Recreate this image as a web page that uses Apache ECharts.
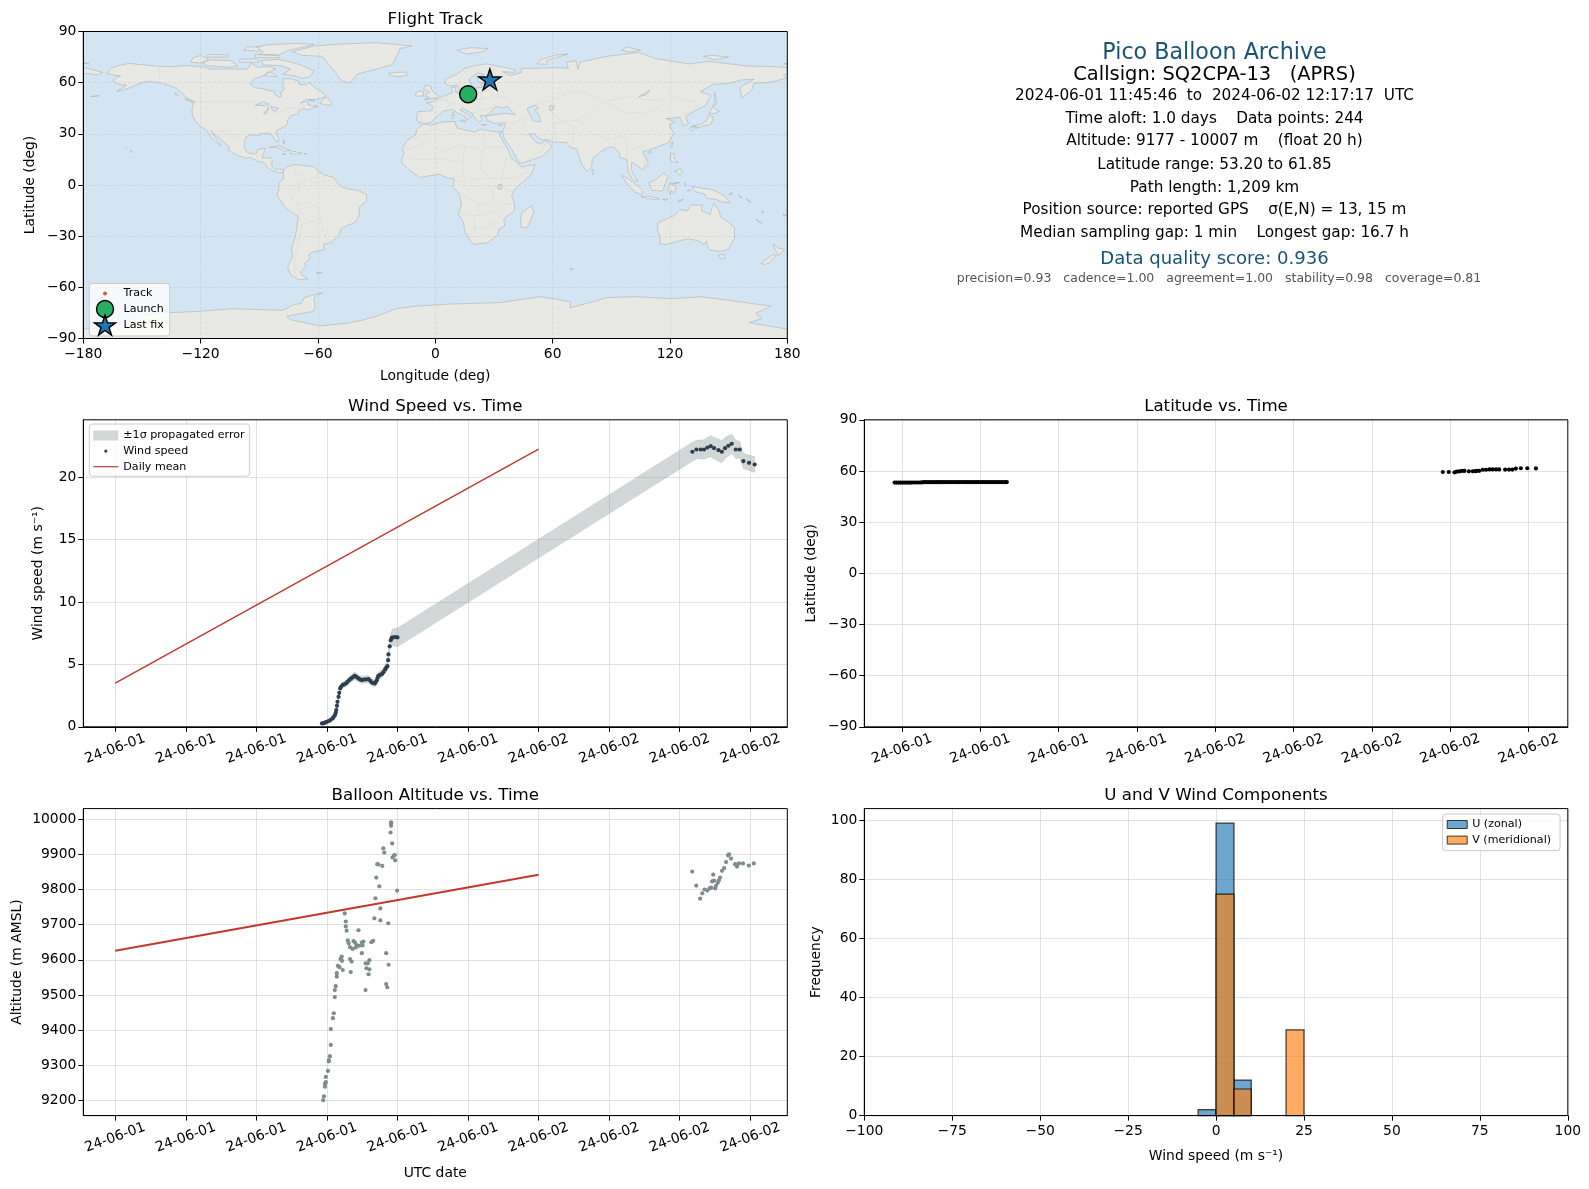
<!DOCTYPE html>
<html><head><meta charset="utf-8">
<style>html,body{margin:0;padding:0;background:#fff}#c{width:1589px;height:1189px}</style>
<script src="https://cdn.jsdelivr.net/npm/echarts@6/dist/echarts.min.js"></script>
</head><body><div id="c"></div>
<script>
// ---------- text ----------
const infoLines = [
 ["Pico Balloon Archive",22.2,"#1a5276",51.7,1214.5],
 ["Callsign: SQ2CPA-13   (APRS)",19.44,"#000",74,1214.5],
 ["2024-06-01 11:45:46  to  2024-06-02 12:17:17  UTC",15.28,"#000",95,1214.5],
 ["Time aloft: 1.0 days    Data points: 244",15.28,"#000",117.6,1214.5],
 ["Altitude: 9177 - 10007 m    (float 20 h)",15.28,"#000",139.9,1214.5],
 ["Latitude range: 53.20 to 61.85",15.28,"#000",163.7,1214.5],
 ["Path length: 1,209 km",15.28,"#000",186.5,1214.5],
 ["Position source: reported GPS    σ(E,N) = 13, 15 m",15.28,"#000",208.8,1214.5],
 ["Median sampling gap: 1 min    Longest gap: 16.7 h",15.28,"#000",232,1214.5],
 ["Data quality score: 0.936",18.06,"#1a5276",257.4,1214.5],
 ["precision=0.93   cadence=1.00   agreement=1.00   stability=0.98   coverage=0.81",12.5,"#555",277.7,1219]
];
// ---------- time ticks (hours since 2024-06-01 00:00 UTC) ----------
const leftTickHours = [0,4,8,12,16,20,24,28,32,36];
const leftTickLabels = ["24-06-01","24-06-01","24-06-01","24-06-01","24-06-01","24-06-01","24-06-02","24-06-02","24-06-02","24-06-02"];
const latTickHours = [12,15,18,21,24,27,30,33,36];
const latTickLabels = ["24-06-01","24-06-01","24-06-01","24-06-01","24-06-02","24-06-02","24-06-02","24-06-02","24-06-02"];
// ---------- wind ----------
const windHours = [11.72,11.8,11.88,11.95,12.03,12.13,12.22,12.32,12.38,12.45,12.5,12.53,12.57,12.6,12.66,12.7,12.75,12.8,12.89,12.98,13.08,13.17,13.26,13.36,13.45,13.52,13.58,13.66,13.74,13.83,13.92,14.01,14.11,14.23,14.36,14.46,14.55,14.64,14.72,14.78,14.83,14.88,14.92,15.02,15.11,15.2,15.3,15.37,15.43,15.47,15.49,15.56,15.62,15.67,15.72,15.86,16.0,
 32.72,32.95,33.19,33.38,33.57,33.76,33.95,34.2,34.39,34.57,34.76,34.95,35.18,35.4,35.61,35.93,36.25];
const windValues = [0.27,0.28,0.32,0.38,0.42,0.48,0.56,0.67,0.78,0.93,1.12,1.34,1.68,2.0,2.4,2.72,3.07,3.2,3.34,3.4,3.47,3.6,3.74,3.86,3.95,4.03,4.09,4.01,3.93,3.84,3.77,3.76,3.79,3.8,3.82,3.68,3.55,3.5,3.47,3.6,3.74,3.95,4.09,4.17,4.22,4.38,4.6,4.75,4.86,5.34,5.8,6.45,6.94,7.1,7.16,7.18,7.16,
 22.04,22.22,22.22,22.22,22.38,22.49,22.33,22.17,22.04,22.33,22.52,22.68,22.22,22.22,21.29,21.15,21.02];
const windSigma = [0.08,0.08,0.08,0.08,0.09,0.09,0.1,0.1,0.1,0.12,0.14,0.15,0.16,0.18,0.2,0.2,0.22,0.24,0.25,0.26,0.26,0.27,0.28,0.3,0.3,0.31,0.32,0.31,0.3,0.3,0.29,0.29,0.29,0.3,0.3,0.29,0.28,0.28,0.28,0.29,0.3,0.3,0.31,0.31,0.32,0.33,0.35,0.36,0.37,0.4,0.44,0.5,0.56,0.62,0.68,0.72,0.75,
 0.76,0.74,0.76,0.78,0.82,0.86,0.88,0.9,0.9,0.86,0.82,0.78,0.72,0.68,0.62,0.62,0.64];
const meanHours = [0,24];
const windMean = [3.5,22.25];
// ---------- altitude ----------
const altHours = [15.64,15.64,15.64,15.61,15.7,15.2,15.25,15.85,15.8,15.72,15.87,14.86,14.92,15.14,14.8,14.97,15.98,14.75,15.03,13.01,14.69,15.03,15.48,13.07,13.07,13.12,13.79,13.18,13.23,13.31,13.46,13.51,13.59,13.68,13.64,13.83,14.02,14.07,13.98,14.52,14.62,
 15.36,13.98,12.84,12.77,12.86,13.31,13.4,14.41,14.2,14.32,15.5,12.62,12.71,14.24,14.41,12.9,13.35,12.56,12.56,14.36,15.36,15.42,12.5,12.45,14.19,12.45,12.39,12.34,12.22,12.22,12.17,12.11,12.11,12.06,11.94,11.94,11.89,11.89,11.83,11.79,
 32.71,32.94,33.28,33.16,33.41,33.56,33.69,33.78,34.01,34.05,33.9,33.84,33.95,34.16,34.22,34.29,34.4,34.52,34.63,34.74,34.8,34.91,35.14,35.25,35.36,35.59,35.92,36.2];
const altValues = [9991,9988,9981,9962,9931,9917,9905,9898,9896,9891,9883,9872,9871,9867,9834,9809,9797,9775,9746,9732,9718,9712,9704,9709,9695,9683,9684,9655,9647,9636,9631,9653,9649,9642,9635,9640,9641,9652,9649,9650,9654,
 9619,9619,9609,9602,9597,9602,9595,9599,9590,9590,9586,9583,9579,9576,9573,9571,9565,9562,9552,9559,9531,9522,9525,9514,9514,9494,9448,9434,9403,9358,9326,9315,9311,9284,9267,9252,9247,9239,9212,9201,
 9851,9811,9789,9774,9800,9797,9803,9805,9803,9810,9842,9823,9825,9819,9826,9834,9853,9861,9878,9897,9900,9888,9872,9865,9874,9874,9868,9874];
const altMean = [9626,9842];
const altTicks = [9200,9300,9400,9500,9600,9700,9800,9900,10000];
// ---------- latitude ----------
const latHours = [11.72,11.8,11.88,11.96,12.04,12.12,12.2,12.28,12.36,12.44,12.52,12.6,12.68,12.76,12.84,12.92,13.0,13.08,13.16,13.24,13.32,13.4,13.48,13.56,13.64,13.72,13.8,13.88,13.96,14.04,14.12,14.2,14.28,14.36,14.44,14.52,14.6,14.68,14.76,14.84,14.92,15.0,15.08,15.16,15.24,15.32,15.4,15.48,15.56,15.64,15.72,15.8,15.88,15.96,16.02,
 32.72,32.95,33.17,33.26,33.36,33.46,33.55,33.72,33.87,33.97,34.02,34.12,34.25,34.38,34.51,34.63,34.76,34.88,35.11,35.26,35.39,35.52,35.71,35.96,36.29];
const latValues = [53.2,53.2,53.2,53.2,53.2,53.21,53.21,53.22,53.22,53.23,53.24,53.24,53.25,53.26,53.4,53.41,53.42,53.42,53.43,53.43,53.44,53.44,53.45,53.45,53.46,53.46,53.46,53.46,53.47,53.47,53.47,53.47,53.47,53.48,53.48,53.48,53.48,53.48,53.48,53.48,53.48,53.48,53.48,53.48,53.49,53.49,53.49,53.49,53.49,53.49,53.49,53.49,53.49,53.49,53.49,
 59.4,59.4,59.2,59.6,59.8,60.0,60.0,59.8,59.8,59.9,60.0,60.1,60.7,60.7,60.9,60.9,60.9,60.9,60.8,60.8,60.8,61.4,61.6,61.6,61.5,61.95];
// ---------- track map ----------
const trackLons = [16.6,17.0,17.6,18.2,18.9,26.1,26.5,26.9,27.3,27.6,27.9];
const trackLats = [53.2,53.25,53.3,53.4,53.5,59.4,59.9,60.4,60.9,61.4,61.85];
const launchPoint = [16.8,53.2];
const lastFixPoint = [27.9,61.85];
// ---------- coastlines (lon, lat) ----------
const northAmerica = [[-168,65.5],[-166,68.3],[-162,70],[-156.5,71.3],[-150,70.5],[-141,69.6],[-135,69.3],[-128,70],[-120,69.5],[-115,68],[-108,68],[-100,68],[-96,68],[-94,71.5],[-91,69],[-85,69.5],[-81.5,68],[-86,66],[-87,64.5],[-93,62],[-94.5,59],[-92.5,57],[-88,56.5],[-85,55.3],[-82.3,55],[-82,53],[-80,51.5],[-78.8,52],[-79,54.5],[-77,56],[-78,58.5],[-78,62.3],[-74,62.3],[-70,61],[-69.5,59],[-66,58.7],[-64.5,60.3],[-61.5,57],[-58,54.5],[-56,52],[-60,50.2],[-66,50.2],[-69,48],[-65,49],[-65,47],[-61,46],[-64,44.3],[-66,44],[-67,45],[-70,43.5],[-70,41.7],[-74,40.5],[-75.5,38],[-76,35],[-78,33.9],[-81,32],[-81.3,30],[-80,26.8],[-80.4,25.2],[-81.8,26],[-82.8,28],[-84,30],[-86,30.3],[-89.5,30.2],[-90,29.1],[-94,29.5],[-97,28],[-97.5,25],[-97.8,22],[-96,19],[-94,18.2],[-91.5,18.5],[-90.5,21],[-87,21.5],[-88,18],[-88.5,16],[-84,15.8],[-83.3,14.9],[-83.7,11],[-82,9],[-79.5,9.5],[-77.3,8.7],[-77.8,7.3],[-80,7.3],[-83,8.2],[-85.5,10],[-87.5,13],[-91,14],[-94.5,16.2],[-97,15.8],[-102,17.9],[-105.5,20],[-105.5,22.5],[-108,25],[-109.5,26.8],[-112.5,29.5],[-114.7,31.7],[-112.8,28],[-110,24],[-110,23],[-112,25],[-114.5,27.5],[-115.7,30],[-117.2,32.5],[-120.5,34.5],[-122.5,37.5],[-124,40],[-124.5,43],[-124,46.5],[-123,49],[-127,51],[-130,54.5],[-133,57],[-137,58.5],[-140,59.8],[-146,60.8],[-150,60],[-152,59],[-154,58],[-158,56.3],[-163,54.8],[-158,58.5],[-162,59],[-165,61.5],[-161,64],[-165,64.5]];
const southAmerica = [[-77.3,8.7],[-75.5,10.8],[-72,12],[-68,11.5],[-62,10.7],[-60,8.3],[-57,6],[-52,4.5],[-50,1],[-48,-1],[-44,-2.5],[-40,-3],[-35.2,-5.5],[-35,-9],[-38.8,-13],[-39,-18],[-41,-22],[-45,-23.8],[-48.5,-26],[-49,-29],[-53.5,-34],[-57,-34.5],[-57,-38],[-62,-39],[-65,-41],[-64,-43],[-67,-46],[-66,-48],[-69,-51],[-68,-53],[-65,-55],[-70,-55.5],[-74,-52.5],[-75.5,-48],[-73,-42],[-73.5,-37],[-71.5,-30],[-70,-18.5],[-76,-14],[-81,-6],[-80,-2.5],[-80,1],[-77.5,4],[-77.8,7.3]];
const africa = [[-6,35.8],[-2,35],[3,36.8],[10,37.3],[11,33.5],[15,32.3],[20,31],[23,32.7],[32,31],[34.2,31.3],[32.5,29.9],[34,27],[37,21],[39,15.5],[43,12],[44,10.5],[51,12],[49,6],[45,2],[40.5,-2.5],[39,-6],[40.5,-11],[40.5,-15],[35,-20],[35.5,-24],[32.5,-26],[32,-29],[27,-33.8],[20,-34.8],[18,-33],[15,-27],[14.5,-22],[11.8,-17],[13.5,-11],[12,-5],[9,-1],[9.7,3.5],[6,4.3],[2,6.3],[-4,5.2],[-8,4.4],[-13,8.5],[-16.8,12.5],[-17.3,14.7],[-16,19],[-17,21],[-14.5,26],[-10,29.5],[-9.5,32.5]];
const eurasia = [[-9,37],[-9.5,39],[-9,43],[-2,43.5],[-1.2,46],[-4.5,48.3],[-1.5,48.7],[1.5,50.5],[4,52],[7,53.4],[8.7,54],[8.2,57],[10.7,57.7],[10,55],[11,54],[14,54],[18.5,54.8],[21,55],[21,57],[24,57.2],[23.5,59.2],[28,59.5],[30,60],[23,60],[21.5,61],[21.5,63],[25,65],[22,65.8],[17.5,62.5],[17.5,60.5],[18.8,59.8],[16.5,57],[14.3,55.5],[12.8,55.5],[11.5,58.8],[8,58],[5.3,59],[5,62],[11,64.8],[15,68.3],[20,70],[26,71],[31,70],[41,67.5],[40,66],[34.5,66.5],[38,64.3],[40.5,64.8],[44,66],[44,68.3],[53,68.5],[60,68.8],[68,68.5],[67,72],[72,72.8],[73,68],[74,72],[80,73.5],[88,75.5],[104,77.7],[113,74],[130,71],[140,72.5],[160,69.7],[170,69.5],[180,68.9],[180,65],[178,64.5],[179.5,62.5],[170,60],[163,59.8],[162,56],[156.8,51],[155.7,57],[163,62],[156,61.5],[150,59.5],[142,59],[135.5,54.8],[141,52.5],[138,46.5],[132,43],[128,40],[129.5,36],[126.5,34.5],[126,37.5],[124.5,40],[121,39],[118,39],[122.5,37],[119.5,35],[122,30.5],[119.5,25],[114,22.5],[110,21],[106,19.5],[109,13],[106,9],[105,10],[100.5,13.5],[100,9],[103.5,2],[101,3],[98.5,8],[98,15],[94.5,16],[94,19],[91,22.5],[87,21.5],[80.3,15.5],[80,11],[77.5,8],[75,12],[73,18],[72.5,21],[69,22],[67,25],[61.5,25],[57,26.5],[54,26.7],[50.5,30],[48,30],[50,27],[51.5,25],[54,24.2],[56.4,26],[59.8,22.5],[55,17],[45,13],[43,13],[39,21],[35,28],[34.5,31.3],[36,36.5],[30,36.2],[26.5,38],[26,40.5],[29,41],[35,42],[41,41.3],[38,44.5],[37,46],[34,45],[33,46],[30,45.5],[28,42],[26,40.7],[23,40.5],[24,38],[22.5,36.6],[19.5,40.5],[19,42],[14,45],[12.5,44],[18.5,40],[16,38],[15.5,40],[11,42.5],[8.8,44.3],[4,43.3],[3,41.8],[0,39.5],[-2,36.8],[-5.5,36]];
const chukotkaWest = [[-180,68.9],[-175,67.5],[-170,66],[-173,64.5],[-178,65.5],[-180,65]];
const greenland = [[-73,78.2],[-68,76],[-58,75.5],[-54,70],[-51,66],[-48,61],[-43.5,59.9],[-40,65],[-30,68],[-22,70.5],[-20,75],[-18,80],[-12,81.5],[-30,83.5],[-50,82.5],[-62,81.5]];
const australia = [[114,-22],[113.5,-26],[115,-31],[115,-34.5],[118,-35],[124,-33],[129,-31.5],[134,-32.5],[137.5,-35],[138.5,-33],[140,-38],[146,-39],[150,-37.5],[153,-31],[153,-25],[149,-21],[146,-19],[145,-15],[142.5,-10.8],[141.5,-13],[140.5,-17.5],[136,-15],[136.5,-12],[131,-11.5],[129,-15],[125,-14.5],[122,-18],[117,-20.5]];
const antarctica = [[-180,-90],[-180,-84.3],[-168,-84],[-160,-81],[-150,-76.5],[-137.6,-75],[-120,-74],[-103.5,-72.6],[-90,-73],[-78,-73.5],[-72,-70],[-68.5,-69.5],[-67,-66],[-57.5,-63],[-62,-66],[-61.6,-71],[-62,-74],[-76,-77],[-74,-79],[-59,-82.6],[-45,-81],[-36.6,-79],[-30,-77],[-20,-72.5],[-9.6,-71],[7.5,-69.8],[33,-69],[53.7,-65.5],[69,-68.4],[69,-72],[72.5,-71],[88,-66],[103,-65.5],[120,-66.7],[136,-65.5],[146,-67],[171.6,-71],[163.9,-75.3],[167,-78.2],[160.5,-80.8],[180,-84.5],[180,-90]];
const islandsArctic = [
 [[-80,73.7],[-72,71.5],[-68,70],[-62,67],[-64,63.5],[-68,62.5],[-72,64],[-78,65],[-74,68],[-79,70],[-88,70.5],[-89,73]],
 [[-117,70],[-105,69],[-101,70],[-105,73],[-115,73.3],[-119,71.5]],
 [[-125,72],[-120,71.5],[-116,73.5],[-120,76],[-124,74.5]],
 [[-90,76.5],[-80,76.3],[-75,79],[-65,81.5],[-62,82.5],[-72,83],[-85,82.3],[-92,81],[-88,78]],
 [[-92,74.8],[-80,74.6],[-80,75.8],[-92,76.5]],
 [[-117,75],[-106,75],[-106,76.3],[-116,76.5]],
 [[-100,72],[-90,72],[-91,74],[-100,73.8]],
 [[-98,79],[-90,78.5],[-90,80.8],[-96,81]],
 [[-87,64],[-81,63.5],[-83,65.5],[-86,66]],
 [[-24,65.5],[-22,64],[-18.5,63.4],[-14,64.5],[-15,66.2],[-21,66]],
 [[11,79],[16,76.8],[24,78],[27,80],[18,80.5]],
 [[52,71],[57,70.7],[57,73],[68,76.8],[62,76.3],[54,73.5]],
 [[95,79],[100,78],[105,79],[98,81]],
 [[137,75.5],[143,73.5],[150,75],[142,76]],
 [[-180,71.5],[-177,71],[-178,71.5]],[[178,71],[180,71.5],[180,70.9]]
];
const islandsEurope = [
 [[-5.5,50],[1.3,51.2],[1.7,52.7],[0,53.5],[-2,55.8],[-2,57.7],[-5,58.6],[-6,56.5],[-3,54.5],[-4.5,53.3],[-5,51.7],[-3,51.3]],
 [[-10,52],[-6,52.2],[-6,54.8],[-8.5,55.2],[-10,54]],
 [[12.5,38],[15.5,38],[15,36.7]],[[8.3,41],[9.7,41],[9.5,39],[8.5,39]],[[8.7,42.5],[9.5,43],[9.3,41.5]],
 [[23.5,35.5],[26.2,35.2],[24.5,35]],[[32.3,35],[34.5,35.6],[33.5,34.6]]
];
const islandsAsia = [
 [[80,9.7],[81.8,7.5],[80.5,6]],[[120.2,23],[121.5,25.2],[121,22]],[[108.7,19.2],[110.5,20.1],[110,18.4]],
 [[130.9,34],[132,33],[131,31.2],[129.8,33]],[[132.5,34],[134.5,34],[133.5,33]],
 [[131,34.5],[136,35.7],[139,38],[140,41],[141.5,40.5],[142,38.5],[140.8,35.5],[137,34.6],[135.5,33.6],[133,34.4]],
 [[140,42],[141.5,45.4],[145.3,43.5],[143,42]],[[142,46],[143,49],[142.8,54.3],[143.8,49],[143.3,46.7]],
 [[120.5,18.5],[122.2,18.4],[122,16],[124,13],[120.8,14],[120,16]],[[122,8],[125.5,9.7],[126.3,7],[125,5.8],[123.5,7.5]],
 [[95.3,5.6],[98,4.2],[104,-1],[106,-3.5],[105.5,-5.8],[102,-4],[98.5,0]],
 [[105.2,-6.8],[108.5,-6.6],[114.5,-7.7],[114.3,-8.7],[108,-7.9]],
 [[109,1.5],[111,2],[113,3.3],[116.7,7],[119,5],[117.7,1],[116.3,-3.5],[111,-3.2],[110,-1]],
 [[119.8,0.8],[125,1.5],[120.8,0.3],[123.3,-1],[122,-5],[120.5,-3],[120.3,-5.6],[119,-3]],
 [[131,-0.8],[137,-2],[141,-2.6],[145,-4.5],[148,-6.5],[150.7,-10.5],[147,-10],[143.5,-8.3],[139,-8],[138,-5.4],[133,-4]],
 [[124,-10],[127,-8.4],[124.5,-9.2]],[[116,-8.4],[119,-8.3],[118,-9]],[[127.5,1.5],[128.5,0],[127.8,-0.5]],[[129,-3],[130.5,-3.2],[129,-3.5]],
 [[150,-5.5],[152,-4.2],[151.5,-5.6]],[[155,-6],[157,-7.5],[155.5,-6.9]],[[159,-8],[161.5,-10],[160,-9.6]]
];
const islandsSouth = [
 [[44.3,-16],[49.3,-12],[50.4,-16],[47,-25],[44,-25],[43.5,-21]],
 [[144.8,-40.8],[148.2,-40.9],[147.8,-43],[146,-43.5]],
 [[172.7,-34.5],[175.5,-37],[178.5,-37.7],[176.8,-40],[175,-41.5],[174.8,-39.5],[174,-38.5]],
 [[172.7,-40.6],[174.2,-41.5],[171,-45.5],[168.5,-46.6],[166.5,-45.8],[170,-43]],
 [[164,-20.2],[167,-22.3],[165.5,-21.8]],[[-61,-51.3],[-58,-51.4],[-59.5,-52.2]],[[68.7,-49.2],[70.5,-49.2],[69.5,-49.8]],
 [[178,-17],[179.5,-17.8],[178.2,-18.2]],[[167,-15],[167.8,-16.3],[167,-16]]
];
const islandsCaribbean = [
 [[-84.8,22],[-80,23],[-74.2,20.3],[-77.5,19.9],[-78,20.7],[-82,22.3]],
 [[-74.4,18.5],[-73,19.9],[-68.4,18.6],[-71,18]],[[-78.3,18.4],[-76.3,18.1],[-77.5,17.8]],[[-67.2,18.5],[-65.7,18.4],[-66.5,18]],
 [[-78,26.5],[-77,26],[-77.5,24]],[[-156,20.2],[-155,19.7],[-155.6,19]],[[-158.2,21.5],[-157.7,21.4],[-158,21.3]],
 [[-133,54],[-131.7,53.5],[-131.5,52],[-133,53]],[[-128,50.7],[-123.5,48.4],[-125,48.7]],[[-59,47.8],[-55,46.8],[-53,47],[-53,48.5],[-56,51.5],[-57.5,50]],[[-64.5,49.9],[-61.7,49.2],[-63.5,49.2]],[[-61,47],[-60,46],[-61.5,45.7]]
];
const chukotkaAleut = [[-176,52],[-172,52.3],[-176,51.8]];
const landPolygons = [northAmerica,southAmerica,africa,eurasia,chukotkaWest,greenland,australia,antarctica,...islandsArctic,...islandsEurope,...islandsAsia,...islandsSouth,...islandsCaribbean,chukotkaAleut];
const waterPolygons = [
 [[47,45],[51,46.8],[53,45],[51,44],[53,41],[54,37],[50,37.5],[49,40],[47.5,43]],
 [[58.5,46.5],[61,46.5],[60,44],[58.5,44]],
 [[32,0],[34,0.3],[33.8,-2.5],[32,-2.5]],
 [[104,51.7],[109.8,55.7],[108,53]],
 [[-92,46.8],[-88,48.8],[-85,47.5],[-87,46.5]],[[-87.8,42],[-85,45.8],[-86.5,41.8]],[[-84,46],[-80,45],[-82,43.2],[-83.5,44]]
];
const borderLines = [
 [[-141,69.6],[-141,60],[-135,59],[-130,55]],
 [[-123,49],[-95,49],[-89,48],[-83,46],[-82.5,42.5],[-79,43],[-75,45],[-71,45],[-67,47],[-67,45]],
 [[-117,32.5],[-108,31.5],[-106,31.7],[-103,29],[-97.5,26]],
 [[-92,14.5],[-91,17.5],[-89,18]],[[-89,15.8],[-88,13.3]],[[-84,15],[-85,11]],
 [[-72,12],[-72,7],[-67,6],[-67,2],[-70,1],[-70,-4],[-74,-8],[-70,-11],[-69,-16],[-70,-18]],
 [[-60,8.3],[-60,5],[-64,4],[-67,2]],[[-57,6],[-57,2]],[[-52,4.5],[-54,2.5],[-60,1.5],[-64,2]],
 [[-80,-3],[-75,-1],[-70,-4]],[[-69,-16],[-65,-22],[-68,-23],[-70,-18]],[[-65,-22],[-58,-20],[-58,-27],[-54,-26],[-57,-30],[-53.5,-33.5]],[[-69,-11],[-65,-10],[-60,-14],[-58,-20]],[[-68,-23],[-70,-33],[-72,-45],[-72,-52]],
 [[-9,42],[-7,42],[-7,37]],[[-2,43.5],[3,42.5]],[[1.5,50.5],[6,49.5],[8,47.5],[6,46],[7,44]],[[7,53.4],[6,51],[6,49.5]],[[8,47.5],[13,47.5],[17,48],[22,48.5],[24,48]],[[14,54],[15,51],[19,49.5],[24,50.5],[23.5,54],[21,55]],[[24,50.5],[32,52],[38,50],[39,47]],[[28,56],[23.5,54]],[[28,59.5],[28,56],[32,52]],[[29,69.5],[30,62],[28,60]],[[20,69],[24,66]],[[13,59],[12,63],[15,66],[20,69]],
 [[22,41],[26,41.5],[28,42]],[[19.5,42],[23,44],[29,45]],[[36,36.5],[42,37],[44.5,39.5],[48,38.5]],[[44.5,37],[46,33],[48,30]],[[39,32],[36,33],[42,37]],[[39,32],[47,29],[48,30]],[[45,13],[52,19],[55,20],[56,24.5]],
 [[61,37],[61,31],[62,25]],[[61,37],[66,37],[71,38],[74.5,37]],[[66,37],[71,34],[70,28],[71,24.5],[69,22]],[[74.5,37],[78,32],[81,30],[88,27],[92,28],[97,28],[98,24],[101,21],[106,23],[108,21.5]],[[88,27],[89,22]],[[92,25],[92,21]],[[98,24],[98,17]],[[101,21],[105,18],[107,15],[107,11]],
 [[47,42],[49,46],[60,50],[70,55],[77,54],[83,51],[87,49],[98,52],[107,50],[116,50],[120,53],[127,50],[135,48],[131,43],[130,42.5]],
 [[87,49],[80,42],[74,39.5],[71,38]],[[87,49],[96,43],[105,42],[112,44],[116,47],[116,50]],[[53,41],[58,45],[61,41],[66,37]],[[124.5,40],[130,42.5]],
 [[-9,27.7],[-1,33],[9,30],[10,37]],[[-13,27.7],[-9,27.7],[-5,25],[4,19],[12,23.5],[15,23],[25,20],[25,31]],[[25,22],[37,22]],[[-17,21],[-13,21],[-6,25]],[[-12,15],[-5,15],[4,15],[14,13],[15,23]],[[14,13],[14,8],[9,4.5]],[[24,20],[23,10],[28,4],[34,4],[36,15],[39,15.5]],[[34,4],[41,4],[48,8],[43,11]],[[34,4],[34,-1],[40,-4.5]],[[14,8],[15,3],[12,2],[10,2]],[[18,3],[28,4]],[[12,-5],[18,-8],[22,-11],[28,-12],[30,-8],[29,-1],[34,-1]],[[12,-17],[22,-18],[29,-16],[33,-15],[35,-11],[40,-11]],[[22,-11],[22,-18]],[[20,-18],[20,-28],[17,-29]],[[25,-18],[29,-22],[32,-26]],[[20,-25],[25,-25.5],[29,-22]]
];
// ---------- histogram ----------
const vCountsBins = [[0,5.1,75],[5.1,10,9],[19.9,25,29]];
const uCountsBins = [[-5.1,0,2],[0,5.1,99],[5.1,10,12]];
const histYTicks = [0,20,40,60,80,100];
const windYTicks = [0,5,10,15,20];

// ---------- layout ----------
const FONT = "DejaVu Sans";
const grids = [
 {left:83.3,top:31.5,width:704,height:307},
 {left:83.3,top:419.8,width:704,height:307},
 {left:864.3,top:419.8,width:703.5,height:307},
 {left:83.3,top:808.6,width:704,height:307},
 {left:864.3,top:808.6,width:703.5,height:307}
].map(g=>Object.assign({show:false,containLabel:false},g));
const minus = v=>String(v).replace('-','\u2212');
const TICK = 13.89;
function ax(o){
  const a = {
    type:'value',gridIndex:o.g,min:o.min,max:o.max,scale:true,z:o.z||0,
    name:o.name||'',nameLocation:'middle',nameGap:o.gap,nameRotate:o.rot,
    nameTextStyle:{fontFamily:FONT,fontSize:TICK,color:'#000'},
    axisLine:{show:true,onZero:false,lineStyle:{color:'#000',width:1}},
    axisTick:{show:true,length:5,lineStyle:{color:'#000',width:1}},
    axisLabel:{show:true,fontFamily:FONT,fontSize:TICK,color:'#000',margin:o.rot?7:9,hideOverlap:false,showMinLabel:true,showMaxLabel:true,formatter:o.fmt||minus},
    splitLine:{show:true,lineStyle:o.dash?{color:'rgba(120,120,120,.2)',width:.7,type:[3,2]}:{color:'rgba(176,176,176,.36)',width:1}}
  };
  if(o.rot){a.axisLabel.verticalAlign='middle';a.axisLabel.padding=[5,0,0,0];}
  if(o.interval) a.interval=o.interval;
  if(o.ticks){a.axisTick.customValues=o.ticks;a.axisLabel.customValues=o.ticks;}
  if(o.timeLabels){
    a.axisLabel.rotate=20;a.axisLabel.align='center';a.axisLabel.verticalAlign='middle';a.axisLabel.margin=22;
  }
  return a;
}
const labelOf=(hrs,labs)=>v=>{const i=hrs.indexOf(v);return i>=0?labs[i]:''};
const leftMin=-1.81,leftMax=38.1,latMin=10.56,latMax=37.51;
const xAxes=[
 ax({g:0,min:-180,max:180,interval:60,name:'Longitude (deg)',gap:31,dash:true,z:2}),
 ax({g:1,min:leftMin,max:leftMax,ticks:leftTickHours,timeLabels:true,fmt:labelOf(leftTickHours,leftTickLabels)}),
 ax({g:2,min:latMin,max:latMax,ticks:latTickHours,timeLabels:true,fmt:labelOf(latTickHours,latTickLabels)}),
 ax({g:3,min:leftMin,max:leftMax,ticks:leftTickHours,timeLabels:true,fmt:labelOf(leftTickHours,leftTickLabels),name:'UTC date',gap:51}),
 ax({g:4,min:-100,max:100,interval:25,name:'Wind speed (m s\u207B\u00B9)',gap:34})
];
const yAxes=[
 ax({g:0,min:-90,max:90,interval:30,name:'Latitude (deg)',gap:46,rot:90,dash:true,z:2}),
 ax({g:1,min:0,max:24.6,ticks:windYTicks,name:'Wind speed (m s\u207B\u00B9)',gap:38,rot:90}),
 ax({g:2,min:-90,max:90,interval:30,name:'Latitude (deg)',gap:46,rot:90}),
 ax({g:3,min:9157,max:10030,ticks:altTicks,name:'Altitude (m AMSL)',gap:59,rot:90}),
 ax({g:4,min:0,max:103.95,ticks:histYTicks,name:'Frequency',gap:41,rot:90})
];
const zip=(a,b)=>a.map((v,i)=>[v,b[i]]);
function polySeries(name,polys,fill,stroke,z){
  return {type:'custom',name,xAxisIndex:0,yAxisIndex:0,z,silent:true,coordinateSystem:'cartesian2d',
    data:polys.map((_,i)=>[i]),encode:{x:[],y:[]},
    renderItem(params,api){
      const pts=polys[api.value(0)].map(p=>api.coord(p));
      return {type:'polygon',shape:{points:pts},style:{fill,stroke,lineWidth:.8}};
    }};
}
function borderSeries(){
  return {type:'custom',name:'borders',xAxisIndex:0,yAxisIndex:0,z:1,silent:true,
    data:borderLines.map((_,i)=>[i]),encode:{x:[],y:[]},
    renderItem(params,api){
      const pts=borderLines[api.value(0)].map(p=>api.coord(p));
      return {type:'polyline',shape:{points:pts},style:{fill:null,stroke:'#dcdcd7',lineWidth:.7}};
    }};
}
function histSeries(name,bins,color,gi){
  return {type:'custom',name,xAxisIndex:gi,yAxisIndex:gi,z:3,silent:true,
    itemStyle:{color},
    data:bins,encode:{x:[0,1],y:2},
    renderItem(params,api){
      const a=api.coord([api.value(0),api.value(2)]);
      const b=api.coord([api.value(1),0]);
      return {type:'rect',shape:{x:a[0],y:a[1],width:b[0]-a[0],height:b[1]-a[1]},
        style:{fill:color,stroke:'rgba(0,0,0,.75)',lineWidth:1.2}};
    }};
}
const bandColor='rgba(127,140,141,.35)';
const STAR='path://M10 0L12.245 6.91L19.51 6.91L13.63 11.18L15.88 18.09L10 13.82L4.12 18.09L6.37 11.18L.49 6.91L7.755 6.91Z';
const series=[
 polySeries('land',landPolygons,'#e8e8e4','rgba(150,158,165,.55)',1),
 borderSeries(),
 polySeries('water',waterPolygons,'#d3e5f2','rgba(150,158,165,.55)',1),
 {type:'scatter',name:'Track',xAxisIndex:0,yAxisIndex:0,z:3,symbolSize:4,itemStyle:{color:'#c0392b'},data:zip(trackLons,trackLats),silent:true},
 {type:'scatter',name:'Launch',xAxisIndex:0,yAxisIndex:0,z:4,symbolSize:17,itemStyle:{color:'#27ae60',borderColor:'#000',borderWidth:1.4,opacity:1},data:[launchPoint],silent:true},
 {type:'scatter',name:'Last fix',xAxisIndex:0,yAxisIndex:0,z:5,symbol:STAR,symbolSize:22,symbolKeepAspect:true,itemStyle:{color:'#1f77b4',borderColor:'#000',borderWidth:1.4,opacity:1},data:[lastFixPoint],silent:true},
 {type:'custom',name:'\u00B11\u03C3 propagated error',xAxisIndex:1,yAxisIndex:1,z:2,silent:true,itemStyle:{color:bandColor},
   data:[[0]],encode:{x:[],y:[]},
   renderItem(params,api){
     const up=windHours.map((h,i)=>api.coord([h,windValues[i]+windSigma[i]]));
     const lo=windHours.map((h,i)=>api.coord([h,Math.max(0,windValues[i]-windSigma[i])])).reverse();
     return {type:'polygon',shape:{points:up.concat(lo)},style:{fill:bandColor,stroke:'rgba(127,140,141,.2)',lineWidth:.8}};
   }},
 {type:'scatter',name:'Wind speed',xAxisIndex:1,yAxisIndex:1,z:3,symbolSize:4.2,itemStyle:{color:'#2c3e50',opacity:1},data:zip(windHours,windValues),silent:true},
 {type:'line',name:'Daily mean',xAxisIndex:1,yAxisIndex:1,z:4,showSymbol:false,lineStyle:{color:'#c0392b',width:1.4},itemStyle:{color:'#c0392b'},data:zip(meanHours,windMean),silent:true},
 {type:'scatter',name:'Latitude',xAxisIndex:2,yAxisIndex:2,z:3,symbolSize:4.2,itemStyle:{color:'#000',opacity:1},data:zip(latHours,latValues),silent:true},
 {type:'scatter',name:'Altitude',xAxisIndex:3,yAxisIndex:3,z:3,symbolSize:4.2,itemStyle:{color:'#7f8c8d',opacity:1},data:zip(altHours,altValues),silent:true},
 {type:'line',name:'Altitude mean',xAxisIndex:3,yAxisIndex:3,z:4,showSymbol:false,lineStyle:{color:'#c0392b',width:2},data:zip(meanHours,altMean),silent:true},
 histSeries('U (zonal)',uCountsBins,'rgba(31,119,180,.65)',4),
 histSeries('V (meridional)',vCountsBins,'rgba(255,127,14,.65)',4)
];
const lgBase={orient:'vertical',backgroundColor:'rgba(255,255,255,.8)',borderColor:'#ccc',borderWidth:1,borderRadius:3,selectedMode:false,
  textStyle:{fontFamily:FONT,fontSize:11.1,color:'#000'}};
const legends=[
 Object.assign({},lgBase,{left:89.3,top:283.5,padding:[0,6,0,4.5],itemWidth:27,itemHeight:20,itemGap:-5.2,
  data:[
   {name:'Track',icon:'path://M0 0M20 20M8 10a2 2 0 1 0 4 0a2 2 0 1 0 -4 0z',itemStyle:{color:'#c0392b',borderWidth:0}},
   {name:'Launch',icon:'path://M0 0M20 20M1.5 10a8.5 8.5 0 1 0 17 0a8.5 8.5 0 1 0 -17 0z',itemStyle:{color:'#27ae60',borderColor:'#000',borderWidth:1.4}},
   {name:'Last fix',icon:STAR,itemStyle:{color:'#1f77b4',borderColor:'#000',borderWidth:1.4}}
  ]}),
 Object.assign({},lgBase,{left:89.3,top:424,padding:[6,5,4,4],itemWidth:25,itemHeight:10,itemGap:4.6,
  data:[
   {name:'\u00B11\u03C3 propagated error',icon:'rect',itemStyle:{color:bandColor,borderWidth:0}},
   {name:'Wind speed',icon:'path://M0 0M25 10M10.9 5a1.6 1.6 0 1 0 3.2 0a1.6 1.6 0 1 0 -3.2 0z',itemStyle:{color:'#2c3e50',borderWidth:0}},
   {name:'Daily mean',icon:'path://M0 0M25 10M0 4.4H25V5.6H0Z',itemStyle:{color:'#c0392b',borderWidth:0}}
  ]}),
 Object.assign({},lgBase,{left:1442.7,top:814,padding:[5,9,5,4],itemWidth:20,itemHeight:8,itemGap:4.6,
  data:[
   {name:'U (zonal)',icon:'rect',itemStyle:{color:'rgba(31,119,180,.65)',borderColor:'rgba(0,0,0,.75)',borderWidth:1}},
   {name:'V (meridional)',icon:'rect',itemStyle:{color:'rgba(255,127,14,.65)',borderColor:'rgba(0,0,0,.75)',borderWidth:1}}
  ]})
];
const titleText=(text,cx,top,size,color)=>({text,left:cx,top,textAlign:'center',padding:0,itemGap:0,
  textStyle:{fontFamily:FONT,fontSize:size,fontWeight:'normal',color}});
const titles=[
 titleText('Flight Track',435.3,11.2,16.67,'#000'),
 titleText('Wind Speed vs. Time',435.3,398.4,16.67,'#000'),
 titleText('Latitude vs. Time',1216,398.4,16.67,'#000'),
 titleText('Balloon Altitude vs. Time',435.3,787.5,16.67,'#000'),
 titleText('U and V Wind Components',1216,787.5,16.67,'#000'),
 ...infoLines.map(l=>titleText(l[0],l[4],l[3]-l[1]*0.42,l[1],l[2]))
];
const frames=grids.map((g,i)=>({type:'rect',z:50,silent:true,shape:{x:g.left,y:g.top,width:g.width,height:g.height},style:{fill:null,stroke:'#000',lineWidth:1}}));
const chart=echarts.init(document.getElementById('c'),null,{width:1589,height:1189,renderer:'canvas'});
grids[0].show=true;grids[0].backgroundColor='#d3e5f2';grids[0].borderWidth=0;
chart.setOption({animation:false,backgroundColor:'#fff',title:titles,grid:grids,xAxis:xAxes,yAxis:yAxes,legend:legends,series,graphic:frames});
</script></body></html>
